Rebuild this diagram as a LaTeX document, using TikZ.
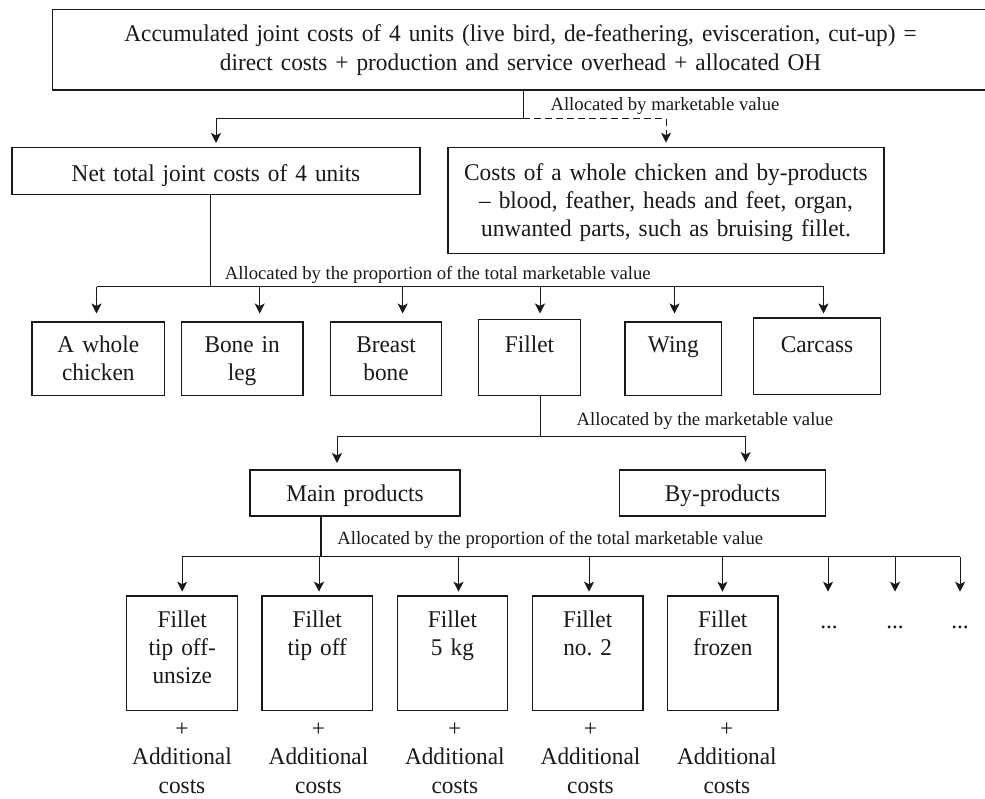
\documentclass[tikz,border=0pt]{standalone}
\usepackage{fontspec}
\setmainfont{Liberation Serif}
\newfontfamily\boxfont{Liberation Serif}[FakeStretch=0.97]
\usetikzlibrary{arrows.meta}
\frenchspacing
\begin{document}
\begin{tikzpicture}[x=1pt,y=-1pt,line width=1pt,color=black!90,
  every node/.style={inner sep=0pt,outer sep=0pt},
  box/.style={draw,line width=1.1pt,align=center,anchor=north west,font=\boxfont\fontsize{24}{28.3}\selectfont},
  lbl/.style={anchor=base west,font=\fontsize{18.7}{22}\selectfont},
  txt/.style={align=center,anchor=base,font=\boxfont\fontsize{24}{28.7}\selectfont},
  arr/.style={-{Stealth[length=10pt,width=10pt,inset=2.5pt]}},
  dsh/.style={dash pattern=on 7pt off 4pt}]
\useasboundingbox (0,0) rectangle (985,798);
% boxes
\node[box,text width=935.6pt,text height=32.4pt,text depth=48.3pt] (top) at (52.7,9.3)
  {Accumulated joint costs of 4 units (live bird, de-feathering, evisceration, cut-up) =\\direct costs + production and service overhead + allocated OH};
\node[box,text width=408pt,text height=34pt,text depth=12.6pt] (net) at (12,147.7)
  {Net total joint costs of 4 units};
\node[box,text width=436pt,text height=32.3pt,text depth=73.3pt] (costs) at (448,147.7)
  {Costs of a whole chicken and by-products\\– blood, feather, heads and feet, organ,\\unwanted parts, such as bruising fillet.};
\node[box,text width=132.7pt,text height=30.3pt,text depth=43.4pt] (whole) at (32,322) {A whole\\chicken};
\node[box,text width=121.7pt,text height=30.3pt,text depth=43.4pt] (bone) at (181.3,322) {Bone in\\leg};
\node[box,text width=111.3pt,text height=30.3pt,text depth=43.4pt] (breast) at (330.4,322) {Breast\\bone};
\node[box,text width=102.4pt,text height=32.6pt,text depth=43.4pt] (fillet) at (478.3,319.7) {Fillet};
\node[box,text width=96.7pt,text height=30.3pt,text depth=43.4pt] (wing) at (625,322) {Wing};
\node[box,text width=127.4pt,text height=34.3pt,text depth=42.4pt] (carcass) at (753.3,318) {Carcass};
\node[box,text width=210pt,text height=31.7pt,text depth=14.3pt] (main) at (250,470) {Main products};
\node[box,text width=206.4pt,text height=31.7pt,text depth=14.3pt] (byp) at (619.3,470) {By-products};
\node[box,text width=110.7pt,text height=31.3pt,text depth=83.4pt] (f1) at (126.9,596) {Fillet\\tip off-\\unsize};
\node[box,text width=110.6pt,text height=31.3pt,text depth=83.4pt] (f2) at (262,596) {Fillet\\tip off};
\node[box,text width=110.3pt,text height=31.3pt,text depth=83.4pt] (f3) at (397.3,596) {Fillet\\5 kg};
\node[box,text width=110.7pt,text height=31.3pt,text depth=83.4pt] (f4) at (532.3,596) {Fillet\\no. 2};
\node[box,text width=110.5pt,text height=31.3pt,text depth=83.4pt] (f5) at (667.5,596) {Fillet\\frozen};
% additional costs
\node[txt,text width=120pt] (a1) at (182,736) {+\\Additional\\costs};
\node[txt,text width=120pt] (a2) at (318.5,736) {+\\Additional\\costs};
\node[txt,text width=120pt] (a3) at (454.8,736) {+\\Additional\\costs};
\node[txt,text width=120pt] (a4) at (590.5,736) {+\\Additional\\costs};
\node[txt,text width=120pt] (a5) at (726.8,736) {+\\Additional\\costs};
\node[txt] (d1) at (829,628.5) {...};
\node[txt] (d2) at (895,628.5) {...};
\node[txt] (d3) at (960,628.5) {...};
% labels
\node[lbl] (l1) at (550.5,110) {Allocated by marketable value};
\node[lbl] (l2) at (224.9,279.3) {Allocated by the proportion of the total marketable value};
\node[lbl] (l3) at (576.6,425) {Allocated by the marketable value};
\node[lbl] (l4) at (337.3,544) {Allocated by the proportion of the total marketable value};
% top split
\coordinate (j0) at (523.4,118.3);
\draw (top.south -| j0) -- (j0);
\draw[arr,shorten >=4.7pt] (j0) -| (net.north);
\draw[arr,dsh,shorten >=5pt] (j0) -| (costs.north);
% row bus
\coordinate (b1) at (210,286.7);
\draw (net.south -| b1) -- (b1);
\coordinate (tA) at (96.5,313.5);
\coordinate (tB) at (259.7,313.5);
\coordinate (tC) at (402.7,313.5);
\coordinate (tD) at (540,313.5);
\coordinate (tE) at (674.5,313.5);
\coordinate (tF) at (823.5,313.5);
\draw (tA |- b1) -- (tF |- b1);
\foreach \t in {tA,tB,tC,tD,tE,tF} \draw[arr] (\t |- b1) -- (\t);
% fillet split
\coordinate (b2) at (540,436);
\draw (fillet.south -| b2) -- (b2);
\coordinate (tM) at (337,463);
\coordinate (tY) at (745.7,462);
\draw[arr] (b2) -| (tM);
\draw[arr] (b2) -| (tY);
% main products bus
\coordinate (b3) at (321,556.7);
\draw[line width=2pt] (main.south -| b3) -- (b3);
\coordinate (s1) at (182.2,591.7);
\coordinate (s2) at (319,591.7);
\coordinate (s3) at (458.5,591.7);
\coordinate (s4) at (589,591.7);
\coordinate (s5) at (722.4,591.7);
\coordinate (s6) at (828,591.7);
\coordinate (s7) at (895,591.7);
\coordinate (s8) at (960,591.7);
\draw (s1 |- b3) -- (s8 |- b3);
\foreach \t in {s1,s2,s3,s4,s5,s6,s7,s8} \draw[arr] (\t |- b3) -- (\t);
\end{tikzpicture}
\end{document}
